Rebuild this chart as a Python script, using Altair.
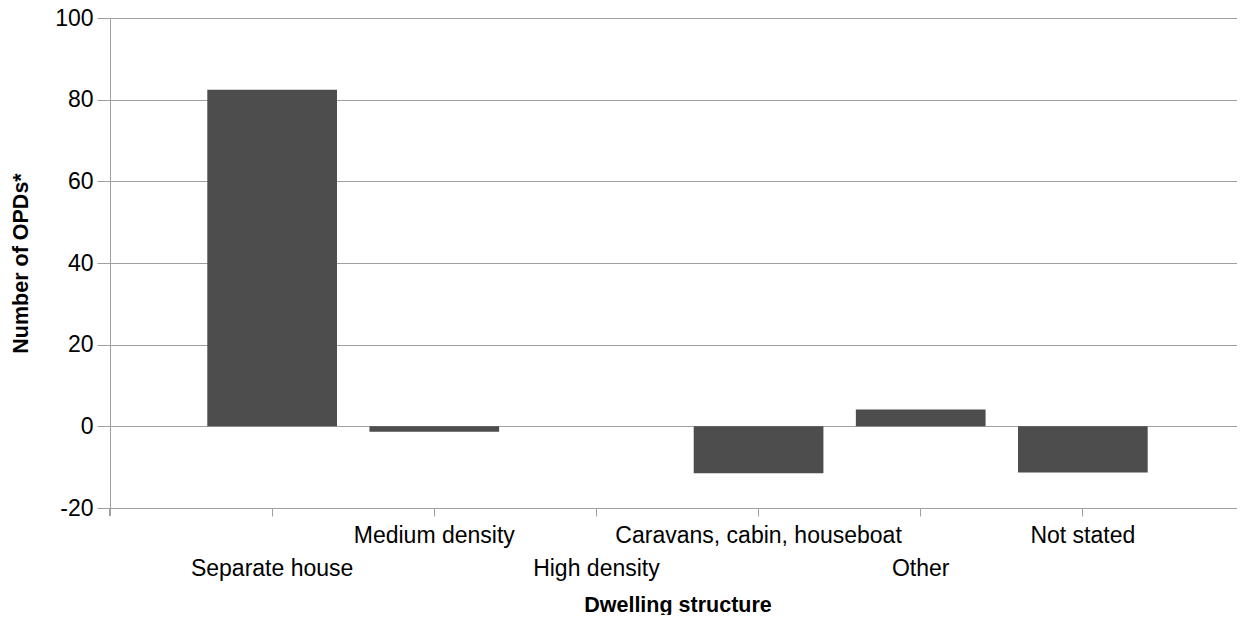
import altair as alt
import pandas as pd

categories = ["Separate house", "Medium density", "High density",
              "Caravans, cabin, houseboat", "Other", "Not stated"]
values = [82.4, -1.3, 0, -11.5, 4.1, -11.3]
upper_row = ["Medium density", "Caravans, cabin, houseboat", "Not stated"]

df = pd.DataFrame({"structure": categories, "opds": values})

FONT = "Liberation Sans"
W, H = 1135, 490

upper_js = "[" + ",".join("'" + s + "'" for s in upper_row) + "]"

x_enc = alt.X(
    "structure:N",
    sort=categories,
    scale=alt.Scale(paddingInner=0.2, paddingOuter=0.6),
    axis=alt.Axis(
        title="Dwelling structure",
        labelAngle=0,
        labelFont=FONT,
        labelFontSize=23,
        labelColor="#000000",
        labelBaseline="top",
        labelLineHeight=33,
        labelPadding=8,
        labelLimit=400,
        labelExpr=f"indexof({upper_js}, datum.value) >= 0 ? [datum.label] : ['', datum.label]",
        tickSize=8,
        tickColor="#a0a0a0",
        domainColor="#a0a0a0",
        titleFont=FONT,
        titleFontSize=21.5,
        titleFontWeight="bold",
        titleColor="#000000",
        titlePadding=14,
    ),
)

bars = alt.Chart(df).mark_bar(color="#4d4d4d").encode(
    x=x_enc,
    y=alt.Y(
        "opds:Q",
        scale=alt.Scale(domain=[-20, 100], nice=False),
        axis=alt.Axis(
            title="Number of OPDs*",
            values=[-20, 0, 20, 40, 60, 80, 100],
            labelExpr="datum.value + ''",
            labelFont=FONT,
            labelFontSize=23,
            labelColor="#000000",
            labelPadding=4,
            tickSize=13,
            tickColor="#a0a0a0",
            domainColor="#a0a0a0",
            gridColor="#a0a0a0",
            titleFont=FONT,
            titleFontSize=21.5,
            titleFontWeight="bold",
            titleColor="#000000",
            titlePadding=22,
        ),
    ),
)

edge_tick = alt.Chart(df).mark_rule(color="#a0a0a0", strokeWidth=1).encode(
    x=alt.value(0), y=alt.value(H), y2=alt.value(H + 8)
)

chart = alt.layer(bars, edge_tick).properties(
    width=W, height=H,
    padding={"left": 102, "top": 10, "right": -8, "bottom": 107},
    autosize=alt.AutoSizeParams(type="none"),
).configure_view(fill="#e0e0e0", stroke=None).configure(background="#ffffff")

chart.save("out.html", embed_options={"renderer": "svg", "actions": False})
